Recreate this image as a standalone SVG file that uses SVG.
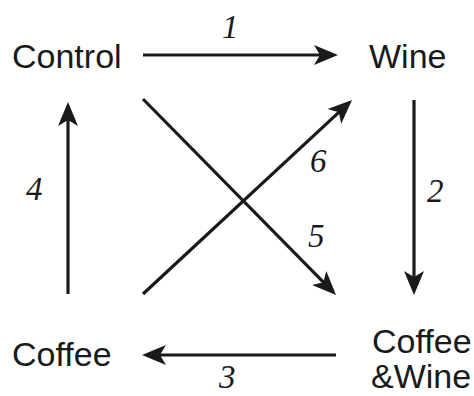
<svg xmlns="http://www.w3.org/2000/svg" width="474" height="396" viewBox="0 0 474 396">
<style>
.node{font-family:"Liberation Sans",Arial,sans-serif;font-size:34px;fill:#1a1a1a}
.lbl{font-family:"Liberation Serif","Times New Roman",serif;font-style:italic;font-size:33px;fill:#1a1a1a}
.edge{stroke:#1a1a1a;stroke-width:3.2;fill:none}
</style>
<defs>
<marker id="ah" markerUnits="userSpaceOnUse" markerWidth="40" markerHeight="30" viewBox="-20 -15 40 30" refX="0" refY="0" orient="auto">
<path d="M10,0 L-14,-10 L-8,0 L-14,10 Z" fill="#1a1a1a"/>
</marker>
</defs>
<rect width="474" height="396" fill="#fff"/>
<g id="control"><text class="node" x="12" y="68">Control</text></g>
<g id="wine"><text class="node" x="369" y="68">Wine</text></g>
<g id="coffee"><text class="node" x="12" y="366">Coffee</text></g>
<g id="coffee-wine"><text class="node" x="372" y="353">Coffee</text><text class="node" x="371" y="388">&amp;Wine</text></g>
<g id="connectors">
<line class="edge" x1="143" y1="55" x2="328" y2="55" marker-end="url(#ah)"/>
<line class="edge" x1="414" y1="100" x2="414" y2="285" marker-end="url(#ah)"/>
<line class="edge" x1="336" y1="355" x2="152" y2="355" marker-end="url(#ah)"/>
<line class="edge" x1="68" y1="294" x2="68" y2="112" marker-end="url(#ah)"/>
<line class="edge" x1="143" y1="99" x2="329" y2="287.9" marker-end="url(#ah)"/>
<line class="edge" x1="143" y1="294" x2="344.7" y2="106.8" marker-end="url(#ah)"/>
<text class="lbl" x="222" y="38">1</text>
<text class="lbl" x="427" y="202">2</text>
<text class="lbl" x="219" y="388">3</text>
<text class="lbl" x="26" y="200">4</text>
<text class="lbl" x="308" y="247">5</text>
<text class="lbl" x="310" y="172">6</text>
</g>
</svg>
